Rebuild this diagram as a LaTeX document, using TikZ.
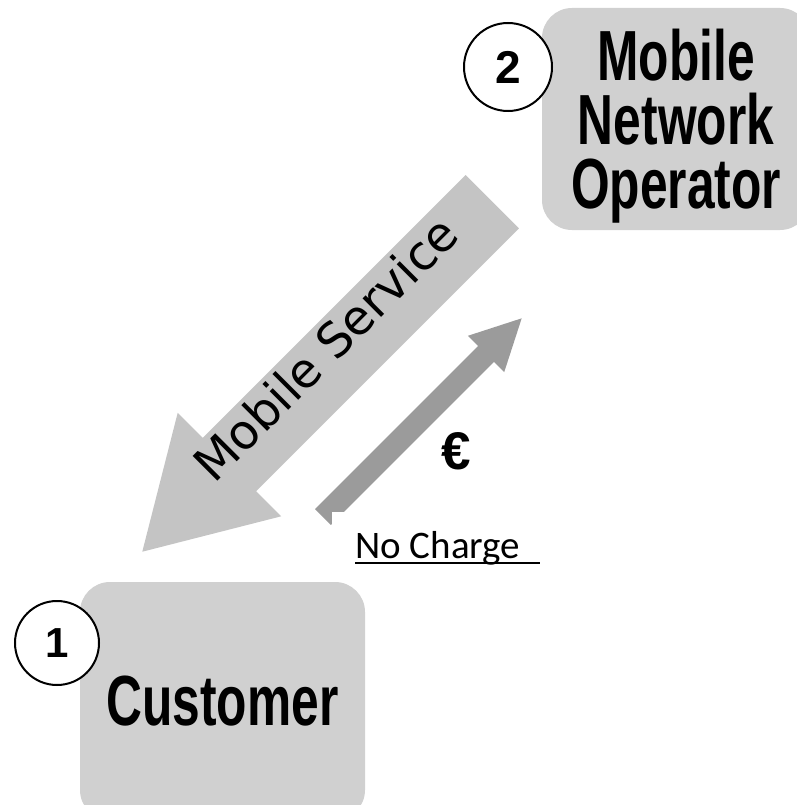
\documentclass[tikz,border=0pt]{standalone}
\usepackage{fontspec}
\setmainfont{Carlito}
\newfontfamily\boxfont[FakeStretch=0.7]{Liberation Sans}
\newfontfamily\numfont{Liberation Sans}
\newfontfamily\svcfont{DejaVu Sans}
\usetikzlibrary{shapes.arrows}
\definecolor{boxgray}{RGB}{208,208,208}
\definecolor{svcgray}{RGB}{196,196,196}
\definecolor{paygray}{RGB}{155,155,155}
\newcommand{\ulinetext}[1]{\sbox0{#1}\rlap{\usebox0}\rule[-6pt]{\wd0}{2pt}}

\begin{document}
\begin{tikzpicture}[x=1pt, y=-1pt,
		party/.style={fill=boxgray, rounded corners=30pt, inner sep=0pt,
			font=\boxfont\bfseries\fontsize{71}{64}\selectfont, align=center},
		num/.style={circle, draw, line width=2pt, fill=white, inner sep=0pt},
		blockarrow/.style={single arrow, inner xsep=0pt, single arrow head indent=0pt}]
		\useasboundingbox (0, 0) rectangle (796, 805);

		% service and payment
		\node[blockarrow, fill=svcgray, rotate=225, anchor=tip, inner ysep=37.5pt,
			minimum height=495pt, single arrow head extend=35.5pt,
			single arrow tip angle=61.4]
			(svc) at (142, 552) {};
		\node[rotate=45, anchor=base, font=\svcfont\fontsize{48}{50}\selectfont]
			(svclbl) at (338, 361) {Mobile Service};

		\node[blockarrow, fill=paygray, rotate=45, anchor=tip, inner ysep=11pt,
			minimum height=281pt, single arrow head extend=14.5pt,
			single arrow tip angle=54]
			(pay) at (522, 318) {};
		\node[font=\numfont\bfseries\fontsize{53}{53}\selectfont]
			(paylbl) at (456, 451) {€};

		\node[fill=white, anchor=north west, inner xsep=23pt, inner ysep=19pt,
			font=\fontsize{39}{40}\selectfont]
			(nocharge) at (332, 512) {\ulinetext{No Charge\hspace{0.5em}}};

		% the two parties
		\node[party, minimum width=268pt, minimum height=222pt, text depth=0pt]
			(mno) at (676, 119) {Mobile\\Network\\Operator};
		\node[party, minimum width=285pt, minimum height=238pt]
			(cust) at (222.5, 701) {Customer};
		\node[num, minimum size=88pt, font=\numfont\bfseries\fontsize{46}{46}\selectfont]
			(mnonum) at (508, 67) {2};
		\node[num, minimum size=84pt, font=\numfont\bfseries\fontsize{42}{42}\selectfont]
			(custnum) at (57, 643) {1};
	\end{tikzpicture}
\end{document}
